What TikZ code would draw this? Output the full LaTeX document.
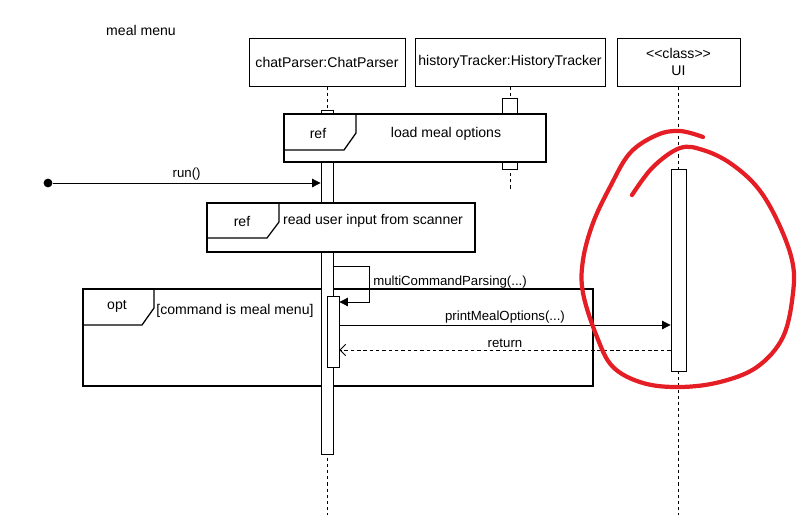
\documentclass[tikz,border=0pt]{standalone}
\usepackage{fontspec}
\setmainfont{Liberation Sans}
\usetikzlibrary{arrows.meta,positioning}

\definecolor{markred}{RGB}{228,30,36}

\begin{document}
\begin{tikzpicture}[
    x=0.025cm, y=-0.025cm,
    every node/.style={font=\fontsize{10}{12.5}\selectfont},
    head/.style={rectangle, draw, fill=white, minimum height=1.2cm, inner sep=2pt, align=center, line width=0.6pt},
    bar/.style={rectangle, draw, fill=white, anchor=north, inner sep=0pt, line width=0.6pt},
    lifeline/.style={dash pattern=on 2.2pt off 2.2pt, line width=0.6pt},
    frame/.style={draw, line width=0.9pt},
    msg/.style={-{Triangle[length=6pt,width=6pt]}, line width=0.6pt},
    reply/.style={-{Straight Barb[length=4pt,width=8pt]}, dash pattern=on 2.5pt off 2pt, line width=0.6pt},
    label/.style={inner sep=0pt, font=\fontsize{9.4}{11}\selectfont}
]
\useasboundingbox (0,0) rectangle (804,528);

\node (title) at (141,30) {meal menu};

% lifeline heads
\node[head, minimum width=3.9cm] (chat) at (327,62) {chatParser:ChatParser};
\node[head, minimum width=4.75cm] (hist) at (510,62) {historyTracker:HistoryTracker};
\node[head, minimum width=3.075cm] (ui) at (678.5,62) {{<}{<}class{>}{>}\\UI};

\draw[lifeline] (chat) -- (chat |- 0,515);
\draw[lifeline] (hist) -- (hist |- 0,190);
\draw[lifeline] (ui) -- (ui |- 0,515);

% opt frame
\draw[frame] (83,289) rectangle (593,386);
\draw[frame] (83,325) -- (142,325) -- (154,308) -- (154,289);
\node (optTag) at (117,306) {opt};
\node (optGuard) at (235,311) {[command is meal menu]};

% activations
\node[bar, minimum width=0.3cm, minimum height=8.6cm] (chatBar) at (327,110) {};
\node[bar, minimum width=0.375cm, minimum height=1.775cm] (histBar) at (510,98) {};
\node[bar, minimum width=0.375cm, minimum height=5.05cm] (uiBar) at (678.5,169) {};

% ref frames
\draw[frame, fill=white] (284,114) rectangle (546,162);
\draw[frame] (284,150) -- (344,150) -- (356,133) -- (356,114);
\node (refTag1) at (318,133) {ref};
\node (refText1) at (446,134) {load meal options};

\draw[frame, fill=white] (207,203) rectangle (475,252);
\draw[frame] (207,238) -- (267,238) -- (279,222) -- (279,203);
\node (refTag2) at (242,221) {ref};
\node (refText2) at (373,221) {read user input from scanner};

\node[bar, minimum width=0.3cm, minimum height=1.775cm] (innerBar) at (333,296) {};

% messages
\node[circle, fill, inner sep=0pt, minimum size=0.22cm] (runStart) at (48,183) {};
\draw[msg] (runStart) -- (runStart -| chatBar.west) node[label, midway, above=1.5pt] {run()};

\coordinate (selfTurn) at (369,266);
\draw[msg] (chatBar.east |- selfTurn) -- (selfTurn) |- (innerBar.east |- 0,302);
\node[label, anchor=west] (selfLabel) at (373,282) {multiCommandParsing(...)};

\coordinate (callY) at (0,325);
\draw[msg] (innerBar.east |- callY) -- (uiBar.west |- callY) node[label, midway, above=1pt] {printMealOptions(...)};

\coordinate (returnY) at (0,350);
\draw[reply] (uiBar.west |- returnY) -- (innerBar.east |- returnY) node[label, midway, above=1.5pt] {return};

% hand-drawn mark
\draw[markred, line width=3pt, line cap=round] plot[smooth, tension=0.6] coordinates {
  (632,195) (653,167) (680,148) (703,150) (730,163) (757,187) (777,220) (792,260)
  (793,293) (783,337) (757,367) (720,382) (680,387) (643,383) (613,367) (597,337)
  (583,293) (583,260) (593,223) (610,187) (630,153) (657,135) (680,131) (703,137)};

\end{tikzpicture}
\end{document}
